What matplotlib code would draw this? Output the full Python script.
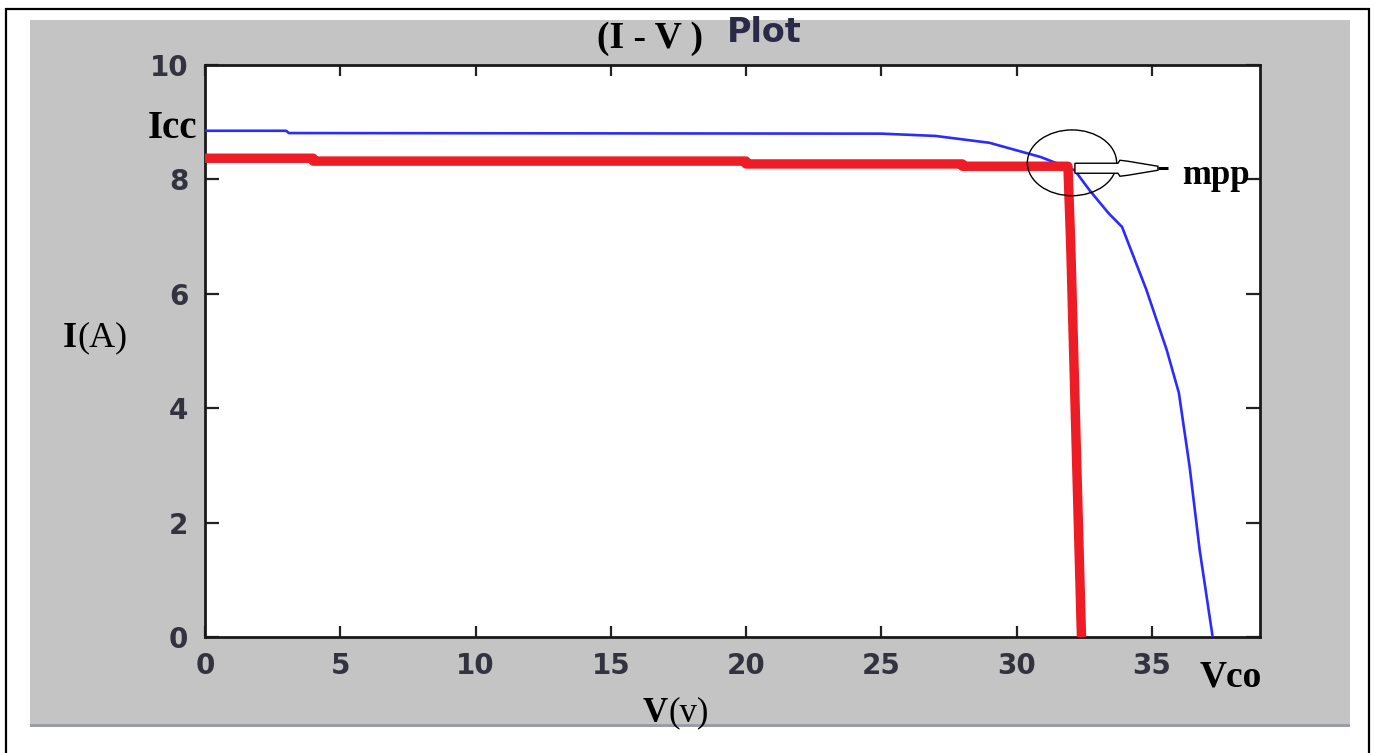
import numpy as np
import matplotlib
matplotlib.use("Agg")
import matplotlib.pyplot as plt
from matplotlib.patches import Ellipse, Polygon, Rectangle
import matplotlib.transforms as mtransforms

# I-V characteristic of the PV module (blue) and its rectangular approximation (red)
v_panel = [0, 3, 3.1, 25, 27, 29, 30.9, 32.15, 32.7, 33.4, 33.9, 34.8, 35.55, 36.0, 36.4, 36.77, 37.25]
i_panel = [8.85, 8.85, 8.81, 8.80, 8.76, 8.64, 8.39, 8.16, 7.81, 7.41, 7.17, 6.07, 5.02, 4.27, 2.97, 1.52, 0.0]

v_rect = [0, 4, 4, 20, 20, 28, 28, 31.9, 32.0, 32.4]
i_rect = [8.37, 8.37, 8.32, 8.32, 8.27, 8.27, 8.23, 8.23, 6.9, 0.0]

# maximum power point
v_mpp, i_mpp = 31.9, 8.23

x_ticks = [0, 5, 10, 15, 20, 25, 30, 35]
y_ticks = [0, 2, 4, 6, 8, 10]

W, H = 1375, 753
fig = plt.figure(figsize=(W / 100, H / 100), dpi=100)
fig.patch.set_facecolor("white")


def fx(px):
    return px / W


def fy(py):
    return 1 - py / H


# outer frame (its lower edge runs off the page) and grey panel, behind the axes
fig.add_artist(Rectangle((fx(6), fy(760)), fx(1369) - fx(6), fy(9) - fy(760),
                         transform=fig.transFigure, fill=False, edgecolor="black",
                         lw=1.6, zorder=-3))
fig.add_artist(Rectangle((fx(30), fy(725)), fx(1350) - fx(30), fy(20) - fy(725),
                         transform=fig.transFigure, facecolor="#c4c4c4",
                         edgecolor="none", zorder=-2))
fig.add_artist(Rectangle((fx(30), fy(727)), fx(1350) - fx(30), 3 / H,
                         transform=fig.transFigure, facecolor="#9a9ca6",
                         edgecolor="none", zorder=-2))

ax = fig.add_axes([fx(205), fy(637), fx(1260) - fx(205), fy(65) - fy(637)])
ax.set_facecolor("white")

ax.plot(v_panel, i_panel, color="#2b2bff", lw=1.9, zorder=3)
ax.plot(v_rect, i_rect, color="#ee1c25", lw=6.8, solid_capstyle="butt", zorder=4)

ax.set_xlim(0, 39)
ax.set_ylim(0, 10)
ax.set_xticks(x_ticks)
ax.set_yticks(y_ticks)

tick_font = dict(family="DejaVu Sans", size=20, weight="bold", color="#33333f")
ax.set_xticklabels([str(t) for t in x_ticks], **tick_font)
ax.set_yticklabels([str(t) for t in y_ticks], **tick_font)
ax.tick_params(axis="x", direction="in", length=8, width=1.6, top=True, pad=11, color="#222222")
ax.tick_params(axis="y", direction="in", length=10, width=1.6, right=True, pad=12, color="#222222")
for s in ax.spines.values():
    s.set_linewidth(2.0)
    s.set_color("#1a1a1a")

# circle around the maximum power point
ax.add_patch(Ellipse((v_mpp + 0.15, i_mpp + 0.06), 3.3, 1.15, fill=False,
                     edgecolor="black", lw=1.0, zorder=6))

# hollow pointer from the mpp towards its label
base = ax.transData.transform((v_mpp, i_mpp))
tr = mtransforms.Affine2D().translate(base[0] + 7, base[1] - 2)
arrow_pts = np.array([(0, 5), (43, 5), (45, 8), (53, 7), (83, 2), (83, -2),
                      (53, -7), (45, -8), (43, -5), (0, -5)])
ax.add_patch(Polygon(arrow_pts, closed=True, facecolor="white", edgecolor="black",
                     lw=1.0, transform=tr, zorder=7))
ax.plot([83, 93], [0, 0], color="black", lw=2.2, transform=tr, zorder=7,
        solid_capstyle="butt")

serif_b = dict(family="Liberation Serif", weight="bold", color="black")
serif_r = dict(family="Liberation Serif", weight="normal", color="black")

fig.text(fx(197), fy(128), "Icc", ha="right", va="center", size=28, **serif_b)
fig.text(fx(1182), fy(176), "mpp", ha="left", va="center", size=25, **serif_b)
fig.text(fx(1200), fy(677), "Vco", ha="left", va="center", size=27, **serif_b)

# axis labels: bold symbol, regular unit
t = fig.text(fx(63), fy(338), "I", ha="left", va="center", size=26, **serif_b)
fig.canvas.draw()
bb = t.get_window_extent()
fig.text(bb.x1 / W, fy(338), "(A)", ha="left", va="center", size=26, **serif_r)

t = fig.text(fx(643), fy(713), "V", ha="left", va="center", size=25, **serif_b)
fig.canvas.draw()
bb = t.get_window_extent()
fig.text(bb.x1 / W, fy(713), "(v)", ha="left", va="center", size=25, **serif_r)

# title
fig.text(fx(597), fy(39), "(I - V )", ha="left", va="center", size=27, **serif_b)
fig.text(fx(727), fy(32), "Plot", ha="left", va="center", size=24, weight="bold",
         family="DejaVu Sans", color="#2a2a48")

fig.savefig("out.png", dpi=100, facecolor="white")
